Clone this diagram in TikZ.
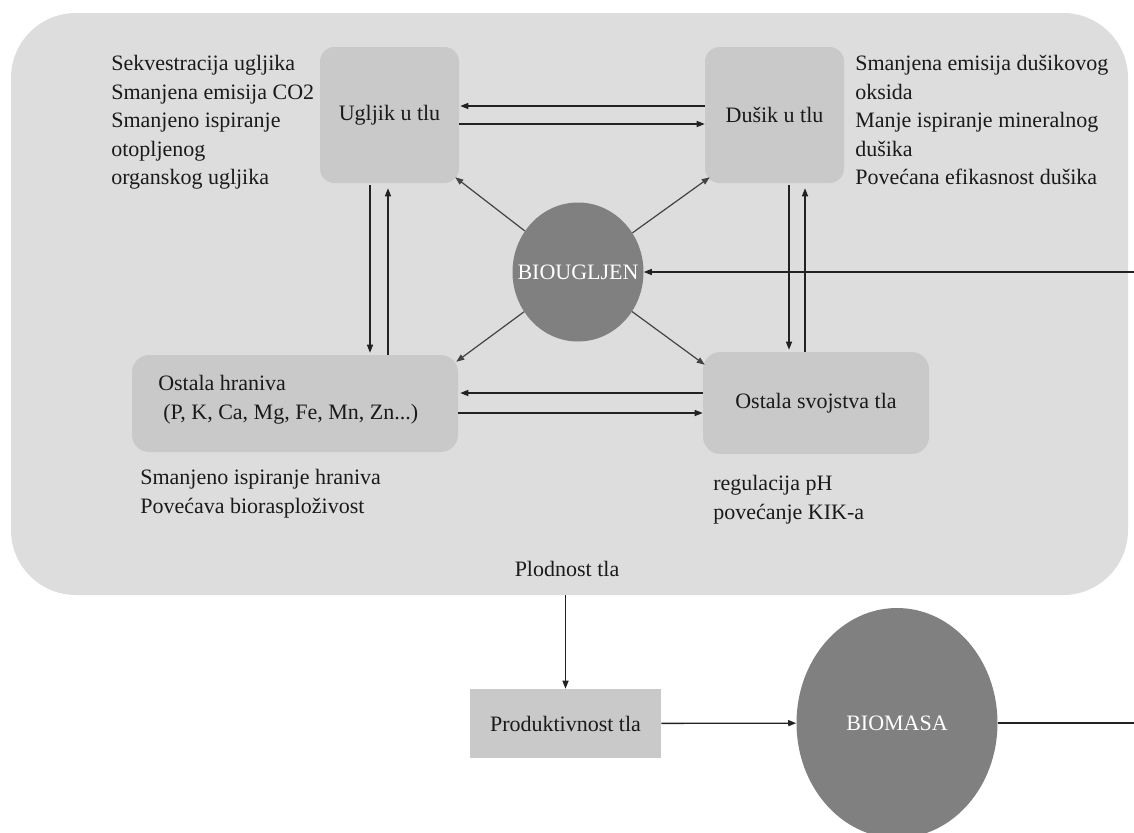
\documentclass[tikz,border=0pt]{standalone}
\usepackage{fontspec}
\setmainfont{Liberation Serif}
\usetikzlibrary{shapes.geometric,arrows.meta,calc}
\definecolor{outerc}{HTML}{DDDDDD}
\definecolor{boxc}{HTML}{C9C9C9}
\definecolor{circc}{HTML}{808080}
\definecolor{txtc}{HTML}{1A1A1A}
\definecolor{arrc}{HTML}{222222}
\tikzset{
  fnt/.style={font=\fontsize{16.5}{21.4}\selectfont},
  txt/.style={fnt, text=txtc, inner sep=0pt, align=left, anchor=north west},
  rbox/.style={fnt, text=txtc, fill=boxc, rounded corners=11pt, inner sep=0pt, minimum width=104.25pt, minimum height=102pt},
  circ/.style={fnt, text=white, fill=circc, ellipse, inner sep=0pt},
  arr/.style={draw=arrc, line width=1pt, -{Triangle[length=6pt,width=4.5pt]}},
  darr/.style={draw=arrc!85, line width=0.9pt, -{Triangle[length=6pt,width=4.5pt]}},
  plain/.style={draw=arrc, line width=1pt},
}
\begin{document}
\begin{tikzpicture}[x=0.75pt,y=-0.75pt]
\useasboundingbox (0,0) rectangle (1134,832);
\clip (0,0) rectangle (1134,832);
\fill[white] (0,0) rectangle (1134,832);
% outer soil area
\node[fill=outerc, rounded corners=48.75pt, inner sep=0pt, minimum width=837.75pt, minimum height=436.5pt] (soil) at (569.5,304) {};
% boxes
\node[rbox] (ug) at (389.5,115) {Ugljik u tlu};
\node[rbox] (du) at (774.5,115) {Dušik u tlu};
\node[rbox, minimum width=244.5pt, minimum height=72.75pt, rounded corners=13pt] (oh) at (295,403.5) {};
\node[txt] (ohtxt) at (158,375) {Ostala hraniva\\\hspace*{3.75pt}(P, K, Ca, Mg, Fe, Mn, Zn...)};
\node[rbox, minimum width=169.5pt, minimum height=76.5pt, rounded corners=13pt] (os) at (816,403) {Ostala svojstva tla};
\node[circ, minimum width=98.25pt, minimum height=104.25pt] (bio) at (578,272) {\makebox[0pt]{BIOUGLJEN}};
% side texts
\node[txt] (t1) at (111,55) {Sekvestracija ugljika\\Smanjena emisija CO2\\Smanjeno ispiranje\\otopljenog\\organskog ugljika};
\node[txt] (t2) at (855,55) {Smanjena emisija dušikovog\\oksida\\Manje ispiranje mineralnog\\dušika\\Povećana efikasnost dušika};
\node[txt] (t4) at (140,469) {Smanjeno ispiranje hraniva\\Povećava biorasploživost};
\node[txt] (t5) at (713,475) {regulacija pH\\povećanje KIK-a};
\node[fnt, text=txtc, inner sep=0pt] (plod) at (567,569) {Plodnost tla};
% lower part
\node[fnt, text=txtc, fill=boxc, inner sep=0pt, minimum width=143.25pt, minimum height=51.75pt] (prod) at (565.5,723.5) {Produktivnost tla};
\node[circ, minimum width=150.75pt, minimum height=172.5pt] (bm) at (897,723) {\makebox[0pt]{BIOMASA}};
\coordinate (inR) at (1134,272);
\coordinate (outR) at (1134,723);
% horizontal arrows top
\draw[arr] ($(du.west)+(0,-9)$) -- ($(ug.east)+(1,-9)$);
\draw[arr] ($(ug.east)+(0,9)$) -- ($(du.west)+(0,9)$);
% horizontal arrows bottom
\draw[arr] ($(oh.east -| os.west)+(0,-10.5)$) -- ($(oh.east)+(2,-10.5)$);
\draw[arr] ($(oh.east)+(0,9.5)$) -- ($(oh.east -| os.west)+(0,9.5)$);
% vertical arrows left
\draw[arr] ($(ug.south)+(-19.5,2)$) -- ($(ug.south |- oh.north)+(-19.5,-2)$);
\draw[arr] ($(ug.south |- oh.north)+(-1.5,0)$) -- ($(ug.south)+(-1.5,5)$);
% vertical arrows right
\draw[arr] ($(du.south)+(14.5,2)$) -- ($(du.south |- os.north)+(14.5,-2)$);
\draw[arr] ($(du.south |- os.north)+(30.5,0)$) -- ($(du.south)+(30.5,5)$);
% diagonals from biochar
\draw[darr] (bio) -- ($(ug.south east)+(-4,-6)$);
\draw[darr] (bio) -- ($(du.south west)+(5,-6)$);
\draw[darr] (bio) -- ($(oh.north east)+(-2,7)$);
\draw[darr] (bio) -- ($(os.north west)+(2,13)$);
% incoming biochar
\draw[arr] (inR) -- (bio);
% fertility to productivity
\draw[arr] (prod.north |- soil.south) -- (prod.north);
\draw[arr] (prod) -- (bm);
\draw[plain] (bm) -- (outR);
\end{tikzpicture}
\end{document}
